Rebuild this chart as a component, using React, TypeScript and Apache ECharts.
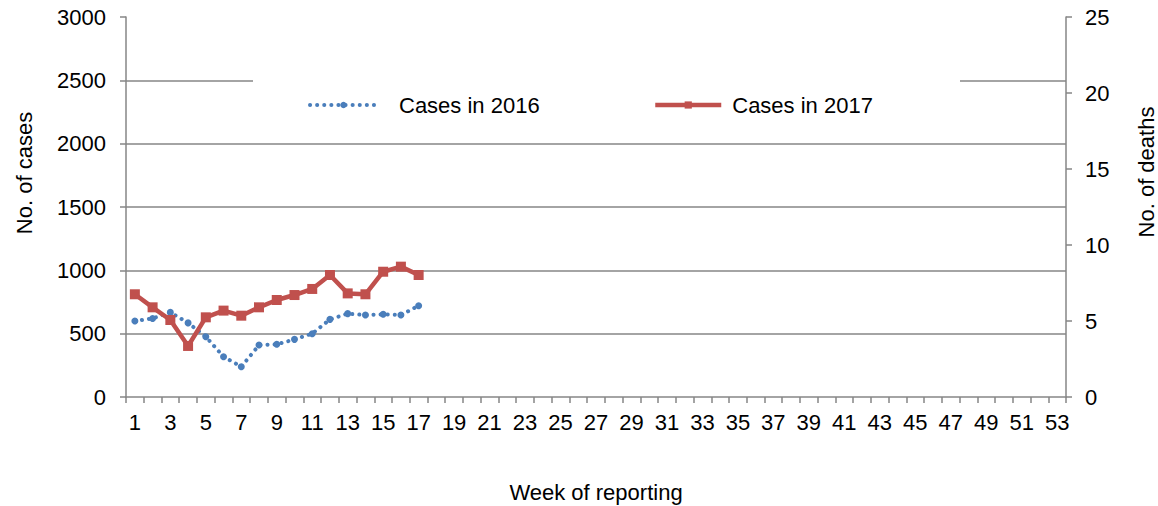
import React, { useEffect, useRef } from "react";
import * as echarts from "echarts";

const weeks: string[] = [];
for (let w = 1; w <= 53; w++) weeks.push(String(w));

const cases2016: number[] = [600, 620, 668, 585, 476, 318, 239, 410, 416, 455, 500, 613, 658, 647, 653, 647, 721];
const cases2017: number[] = [811, 708, 608, 403, 629, 682, 642, 708, 766, 805, 853, 963, 818, 811, 989, 1029, 963];

const casesTicks = { min: 0, max: 3000, interval: 500 };
const deathsTicks = { min: 0, max: 25, interval: 5 };

const BLUE = "#4A7EBB";
const RED = "#C0504D";
const AXIS = "#868686";
const FONT = "'Liberation Sans', Arial, sans-serif";

export default function App() {
  const ref = useRef<HTMLDivElement>(null);
  useEffect(() => {
    if (!ref.current) return;
    const chart = echarts.init(ref.current, undefined, { renderer: "svg" });
    const axisLabel = { color: "#000", fontSize: 22, fontFamily: FONT, formatter: (v: any) => String(v) };
    chart.setOption({
      animation: false,
      backgroundColor: "#fff",
      grid: { left: 126, right: 92, top: 17, bottom: 109, containLabel: false },
      graphic: [
        { type: "rect", z: 1, shape: { x: 253, y: 70, width: 707, height: 64 }, style: { fill: "#fff" } },
        {
          type: "text", x: 24, y: 173, rotation: Math.PI / 2, z: 5,
          style: { text: "No. of cases", fill: "#000", font: `22px ${FONT}`, align: "center", verticalAlign: "middle" },
        },
        {
          type: "text", x: 1146, y: 172, rotation: Math.PI / 2, z: 5,
          style: { text: "No. of deaths", fill: "#000", font: `22px ${FONT}`, align: "center", verticalAlign: "middle" },
        },
        {
          type: "text", x: 596, y: 492, z: 5,
          style: { text: "Week of reporting", fill: "#000", font: `22px ${FONT}`, align: "center", verticalAlign: "middle" },
        },
      ],
      legend: [
        {
          data: ["Cases in 2016"], left: 303, top: 89, itemWidth: 67, itemHeight: 8, z: 5,
          lineStyle: { width: 4, type: [0.1, 7], cap: "round", color: BLUE },
          textStyle: { color: "#000", fontSize: 22, fontFamily: FONT, padding: [0, 0, 0, 17] },
        },
        {
          data: ["Cases in 2017"], left: 648, top: 89, itemWidth: 66, itemHeight: 9, z: 5,
          lineStyle: { width: 4.5, color: RED },
          textStyle: { color: "#000", fontSize: 22, fontFamily: FONT, padding: [0, 0, 0, 6] },
        },
      ],
      xAxis: {
        type: "category",
        data: weeks,
        boundaryGap: true,
        axisLine: { lineStyle: { color: AXIS, width: 1.5 } },
        axisTick: { show: true, interval: 0, length: 6, lineStyle: { color: AXIS, width: 1.5 } },
        axisLabel: { color: "#000", fontSize: 22, fontFamily: FONT, interval: 1, margin: 14 },
        splitLine: { show: false },
      },
      yAxis: [
        {
          type: "value",
          ...casesTicks,
          position: "left",
          axisLine: { show: true, lineStyle: { color: AXIS, width: 1.5 } },
          axisTick: { show: true, length: 6, lineStyle: { color: AXIS, width: 1.5 } },
          axisLabel: { ...axisLabel, margin: 20 },
          splitLine: { show: true, showMaxLine: false, showMinLine: false, lineStyle: { color: AXIS, width: 1.5 } },
        },
        {
          type: "value",
          ...deathsTicks,
          position: "right",
          axisLine: { show: true, lineStyle: { color: AXIS, width: 1.5 } },
          axisTick: { show: true, length: 6, lineStyle: { color: AXIS, width: 1.5 } },
          axisLabel: { ...axisLabel, margin: 19 },
          splitLine: { show: false },
        },
      ],
      series: [
        {
          name: "Cases in 2016",
          type: "line",
          yAxisIndex: 0,
          data: cases2016,
          symbol: "circle",
          symbolSize: 7,
          z: 3,
          itemStyle: { color: BLUE },
          lineStyle: { color: BLUE, width: 4, type: [0.1, 7], cap: "round" },
        },
        {
          name: "Cases in 2017",
          type: "line",
          yAxisIndex: 0,
          data: cases2017,
          symbol: "rect",
          symbolSize: 10,
          z: 4,
          itemStyle: { color: RED },
          lineStyle: { color: RED, width: 4.5 },
        },
      ],
    });
    return () => chart.dispose();
  }, []);
  return <div ref={ref} style={{ width: 1158, height: 506, position: "absolute", left: 0, top: 0 }} />;
}
